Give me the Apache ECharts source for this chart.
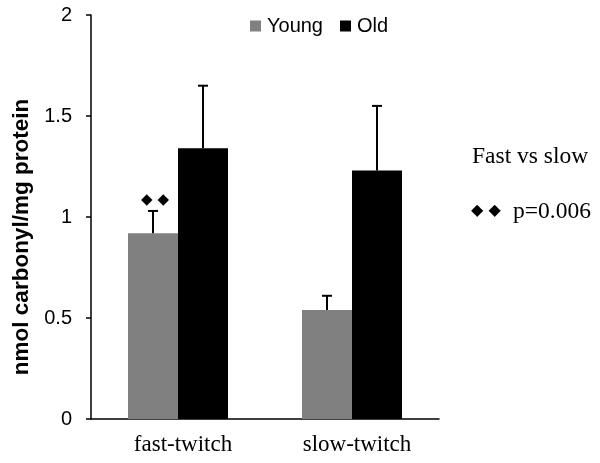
<!DOCTYPE html>
<html><head><meta charset="utf-8">
<script src="https://cdn.jsdelivr.net/npm/echarts@6/dist/echarts.min.js"></script>
<style>html,body{margin:0;padding:0;background:#fff}#c{width:600px;height:463px}</style>
</head><body><div id="c"></div>
<script>
const categories = ['fast-twitch', 'slow-twitch'];
const youngValues = [0.92, 0.54];
const youngErrors = [0.11, 0.07];
const oldValues = [1.34, 1.23];
const oldErrors = [0.31, 0.32];
const youngMarks = ['\u25C6 \u25C6', ''];
const yTicks = [0, 0.5, 1, 1.5, 2];

const chart = echarts.init(document.getElementById('c'));
const BW = 50;
function errSeries(name, vals, errs, offset, marks) {
  return {
    type: 'custom', name: name + ' err', z: 5, silent: true,
    data: vals.map((v, i) => [i, v, v + errs[i], marks ? marks[i] : '']),
    renderItem: function (params, api) {
      const i = api.value(0);
      const base = api.coord([i, api.value(1)]);
      const top = api.coord([i, api.value(2)]);
      const x = base[0] + offset;
      const children = [
        {type: 'line', shape: {x1: x, y1: base[1], x2: x, y2: top[1]}, style: {stroke: '#000', lineWidth: 2}},
        {type: 'line', shape: {x1: x - 5, y1: top[1], x2: x + 5, y2: top[1]}, style: {stroke: '#000', lineWidth: 2}}
      ];
      const m = api.value(3);
      if (m) children.push({type: 'text', style: {text: m, x: x + 2, y: top[1] - 11, align: 'center', verticalAlign: 'middle', font: '15px "DejaVu Sans"', fill: '#000'}});
      return {type: 'group', children: children};
    }
  };
}
chart.setOption({
  animation: false,
  grid: {left: 91, right: 161, top: 15, bottom: 44, containLabel: false},
  legend: {
    data: ['Young', 'Old'], top: 11, left: 245, itemWidth: 11, itemHeight: 11, itemGap: 17,
    icon: 'rect', textStyle: {fontFamily: 'Liberation Sans', fontSize: 20, color: '#000', padding: [0, 0, 0, 1]}
  },
  xAxis: {
    type: 'category', data: categories,
    axisLine: {lineStyle: {color: '#000', width: 1.5}},
    axisTick: {show: false},
    axisLabel: {fontFamily: 'Liberation Serif', fontSize: 23, color: '#000', margin: 14, padding: [0, 0, 0, 10]}
  },
  yAxis: {
    type: 'value', min: yTicks[0], max: yTicks[yTicks.length - 1], interval: 0.5,
    name: 'nmol carbonyl/mg protein', nameLocation: 'middle', nameGap: 58,
    nameTextStyle: {fontFamily: 'Liberation Sans', fontSize: 22.5, fontWeight: 'bold', color: '#000', padding: [0, 40, 0, 0]},
    axisLine: {show: true, lineStyle: {color: '#000', width: 1.5}},
    axisTick: {show: true, length: 5, lineStyle: {color: '#000', width: 1.5}},
    splitLine: {show: false},
    axisLabel: {fontFamily: 'Liberation Sans', fontSize: 20, color: '#000', margin: 19}
  },
  series: [
    {type: 'bar', name: 'Young', data: youngValues, barWidth: BW, barGap: '0%', itemStyle: {color: '#808080'}},
    {type: 'bar', name: 'Old', data: oldValues, barWidth: BW, barGap: '0%', itemStyle: {color: '#000'}},
    errSeries('Young', youngValues, youngErrors, -BW / 2, youngMarks),
    errSeries('Old', oldValues, oldErrors, BW / 2, null)
  ],
  graphic: [
    {type: 'text', left: 472, top: 145, style: {text: 'Fast vs slow', font: '23.5px "Liberation Serif"', fill: '#000'}},
    {type: 'text', left: 471, top: 203, style: {text: '\u25C6 \u25C6', font: '16px "DejaVu Sans"', fill: '#000'}},
    {type: 'text', left: 513, top: 200, style: {text: 'p=0.006', font: '23.5px "Liberation Serif"', fill: '#000'}}
  ]
});
</script></body></html>
